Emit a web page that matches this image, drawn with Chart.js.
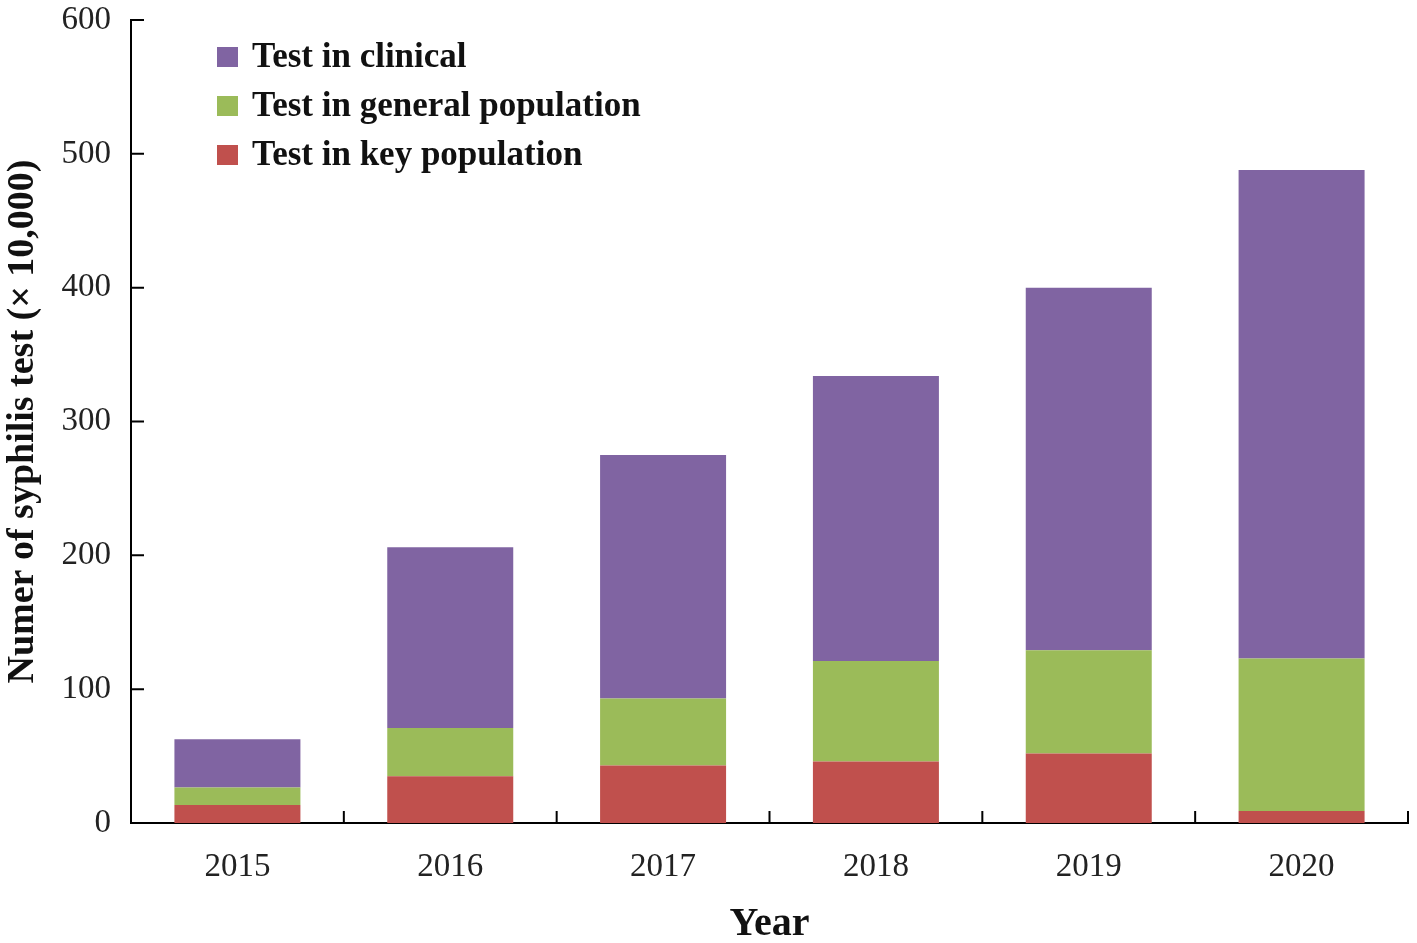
<!DOCTYPE html>
<html>
<head>
<meta charset="utf-8">
<script src="https://cdn.jsdelivr.net/npm/chart.js@4"></script>
<style>
    html, body { margin: 0; padding: 0; background: #fff; }
    #wrap { width: 1417px; height: 943px; }
</style>
</head>
<body>
<div id="wrap"><canvas id="grafico"></canvas></div>
<script>
// dados
const anos = ['2015', '2016', '2017', '2018', '2019', '2020'];
const testeChave = [13.5, 35, 43, 46, 52, 9];
const testeGeral = [13, 36, 50, 75, 77, 114];
const testeClinico = [36, 135, 182, 213, 271, 365];
const legendas = ['Test in key population', 'Test in general population', 'Test in clinical'];
const cores = ['#C0504D', '#9BBB59', '#8064A2'];

const fonte = "'Liberation Serif', 'Times New Roman', serif";

// ticks curtos para dentro da área, como no original
const ticksInternos = {
    id: 'ticksInternos',
    afterDraw(chart) {
        const ctx = chart.ctx;
        const x = chart.scales.x;
        const y = chart.scales.y;
        ctx.save();
        ctx.strokeStyle = '#000';
        ctx.lineWidth = 2;
        ctx.beginPath();
        y.ticks.forEach(t => {
            const py = y.getPixelForValue(t.value);
            ctx.moveTo(x.left, py);
            ctx.lineTo(x.left + 13, py);
        });
        for (let i = 1; i <= anos.length; i++) {
            const px = x.getPixelForValue(i - 0.5);
            ctx.moveTo(px, y.bottom);
            ctx.lineTo(px, y.bottom - 12);
        }
        ctx.stroke();
        ctx.restore();
    }
};

// legenda desenhada dentro da área do gráfico (ordem invertida)
const legendaInterna = {
    id: 'legendaInterna',
    afterDraw(chart) {
        const ctx = chart.ctx;
        const area = chart.chartArea;
        const sets = chart.data.datasets.slice().reverse();
        ctx.save();
        ctx.font = 'bold 35px ' + fonte;
        ctx.textBaseline = 'middle';
        sets.forEach((ds, i) => {
            const cy = area.top + 37 + i * 49;
            ctx.fillStyle = ds.backgroundColor;
            ctx.fillRect(area.left + 86, cy - 10, 21, 20);
            ctx.fillStyle = '#111';
            ctx.fillText(ds.label, area.left + 121, cy + 1);
        });
        ctx.restore();
    }
};

const datasets = [testeChave, testeGeral, testeClinico].map((valores, i) => ({
    label: legendas[i],
    data: valores,
    backgroundColor: cores[i],
    borderWidth: 0,
    barPercentage: 0.592,
    categoryPercentage: 1
}));

new Chart(document.getElementById('grafico'), {
    type: 'bar',
    data: { labels: anos, datasets: datasets },
    options: {
        responsive: true,
        maintainAspectRatio: false,
        animation: false,
        layout: { padding: { top: 20, right: 9, left: 0, bottom: 0 } },
        plugins: {
            legend: { display: false },
            tooltip: { enabled: false }
        },
        scales: {
            x: {
                stacked: true,
                offset: true,
                afterFit: s => { s.height = 120; },
                grid: { display: false, drawTicks: false },
                border: { display: true, color: '#000', width: 2 },
                ticks: { color: '#222', padding: 25, font: { family: fonte, size: 33 } },
                title: {
                    display: true,
                    text: 'Year',
                    color: '#111',
                    padding: { top: 0, bottom: -6 },
                    font: { family: fonte, size: 40, weight: 'bold' }
                }
            },
            y: {
                stacked: true,
                min: 0,
                max: 600,
                afterFit: s => { s.width = 131; s.paddingTop = 0; s.paddingBottom = 0; },
                grid: { display: false, drawTicks: false },
                border: { display: true, color: '#000', width: 2 },
                ticks: { stepSize: 100, color: '#222', padding: 20, font: { family: fonte, size: 33 } },
                title: {
                    display: true,
                    text: 'Numer of syphilis test (× 10,000)',
                    color: '#111',
                    padding: { top: 0, bottom: 0 },
                    font: { family: fonte, size: 38, weight: 'bold' }
                }
            }
        }
    },
    plugins: [ticksInternos, legendaInterna]
});
</script>
</body>
</html>
